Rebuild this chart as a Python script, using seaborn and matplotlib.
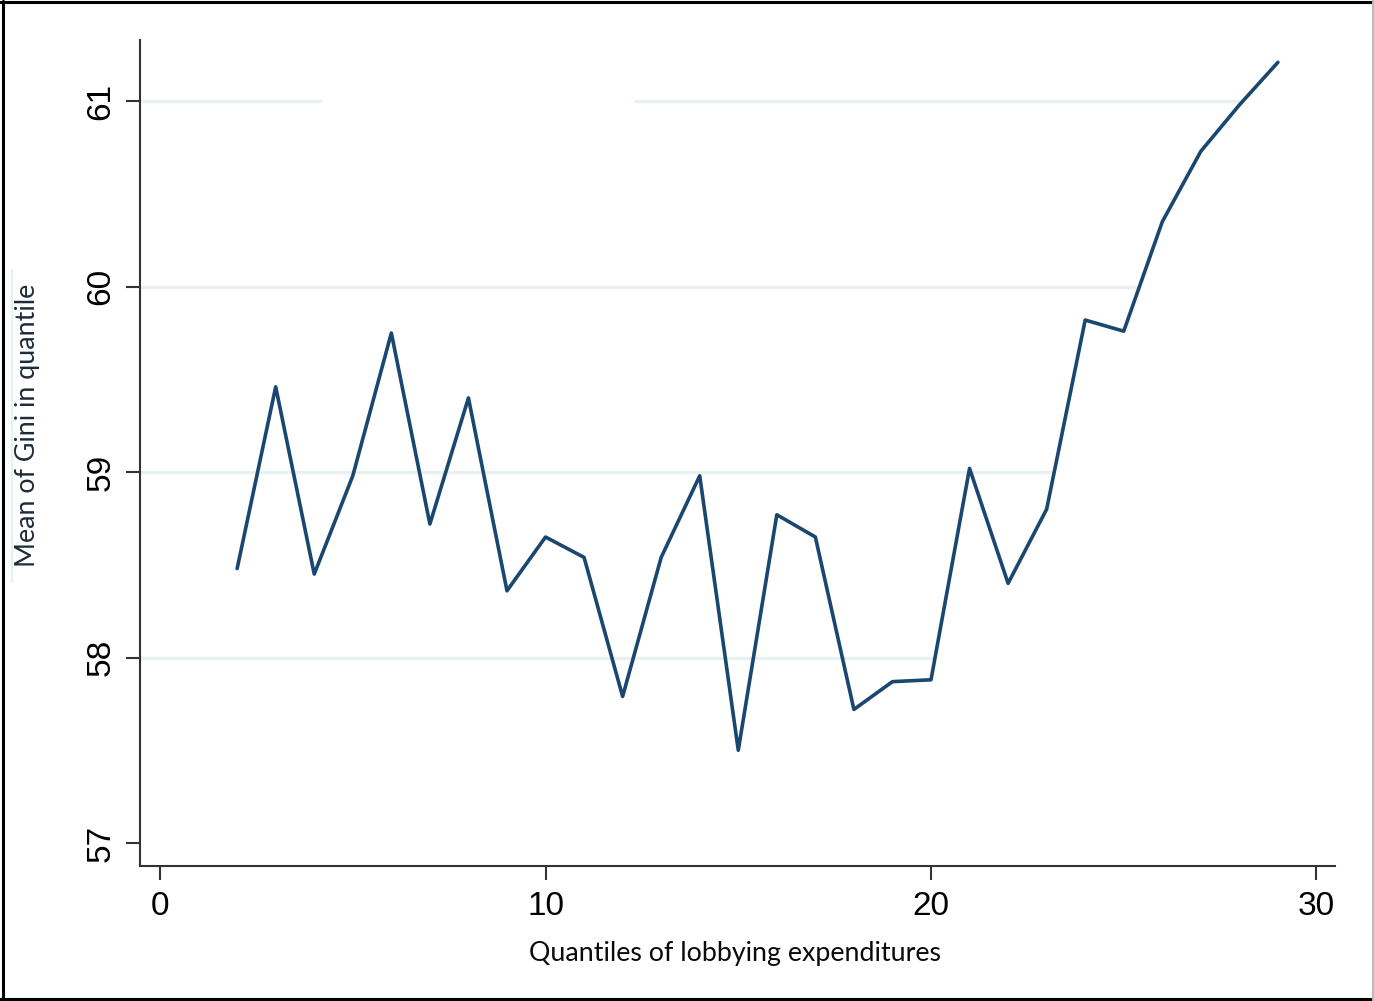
import matplotlib
matplotlib.use("Agg")
import matplotlib.pyplot as plt
from matplotlib.lines import Line2D
import seaborn as sns
import pandas as pd

# Quantile index and mean Gini per quantile
quantiles = list(range(2, 30))
gini_mean = [58.48, 59.46, 58.45, 58.98, 59.75, 58.72, 59.40, 58.36, 58.65,
             58.54, 57.79, 58.54, 58.98, 57.50, 58.77, 58.65, 57.72, 57.87,
             57.88, 59.02, 58.40, 58.80, 59.82, 59.76, 60.35, 60.73, 60.98,
             61.21]
x_ticks = [0, 10, 20, 30]
y_ticks = [57, 58, 59, 60, 61]

df = pd.DataFrame({"quantile": quantiles, "gini": gini_mean})

sns.set_theme(style="white")
plt.rcParams["font.family"] = ["Liberation Sans", "DejaVu Sans"]

fig = plt.figure(figsize=(13.74, 10.01), dpi=100)
ax = fig.add_axes([0.1019, 0.1349, 0.8697, 0.8251])

xmin, xmax = -0.52, 30.48
ymin, ymax = 56.876, 61.33

# light horizontal grid segments
grid_c = "#e9f0f2"
grid_spans = {
    58: [(xmin, 20.1)],
    59: [(xmin, 23.16)],
    60: [(xmin, 25.37)],
    61: [(xmin, 4.2), (12.3, 28.09)],
}
for yv, spans in grid_spans.items():
    for a, b in spans:
        ax.hlines(yv, a, b, color=grid_c, lw=2.4, zorder=1)

sns.lineplot(data=df, x="quantile", y="gini", color="#1a476f", lw=2.6,
             ax=ax, zorder=3)

ax.set_xlim(xmin, xmax)
ax.set_ylim(ymin, ymax)
ax.set_xticks(x_ticks)
ax.set_yticks(y_ticks)
ax.set_xticklabels([str(v) for v in x_ticks], fontsize=24, color="#000000")
ax.set_yticklabels([str(v) for v in y_ticks], fontsize=24, color="#000000",
                   rotation=90, va="center")

for side in ["top", "right"]:
    ax.spines[side].set_visible(False)
for side in ["left", "bottom"]:
    ax.spines[side].set_color("#333333")
    ax.spines[side].set_linewidth(1.5)

ax.tick_params(axis="both", which="major", direction="out", length=10,
               width=1.5, color="#333333", left=True, bottom=True)
ax.tick_params(axis="x", pad=8)
ax.tick_params(axis="y", pad=7)

ax.set_xlabel("Quantiles of lobbying expenditures", fontsize=19.3,
              family=["Lato", "DejaVu Sans"], color="#0a0a0a")
ax.set_ylabel("Mean of Gini in quantile", fontsize=19.3,
              family=["Lato", "DejaVu Sans"], color="#1c2a3a")
ax.xaxis.set_label_coords(0.498, -0.091)
ax.yaxis.set_label_coords(-0.084, 0.534)

# faint rule beside the y title
fig.add_artist(Line2D([12 / 1374, 12 / 1374], [1 - 582 / 1001, 1 - 270 / 1001],
                      transform=fig.transFigure, color=grid_c, lw=1.5))

# outer frame
fr = fig.transFigure
fig.add_artist(Line2D([0.002, 0.002], [0.001, 0.999], transform=fr, color="black", lw=2.2))
fig.add_artist(Line2D([0.0, 1.0], [0.9985, 0.9985], transform=fr, color="black", lw=2.2))
fig.add_artist(Line2D([0.0, 1.0], [0.0015, 0.0015], transform=fr, color="black", lw=2.2))
fig.add_artist(Line2D([0.9993, 0.9993], [0.0, 1.0], transform=fr, color="#bbbbbb", lw=1.5))

fig.savefig("out.png", dpi=100)
